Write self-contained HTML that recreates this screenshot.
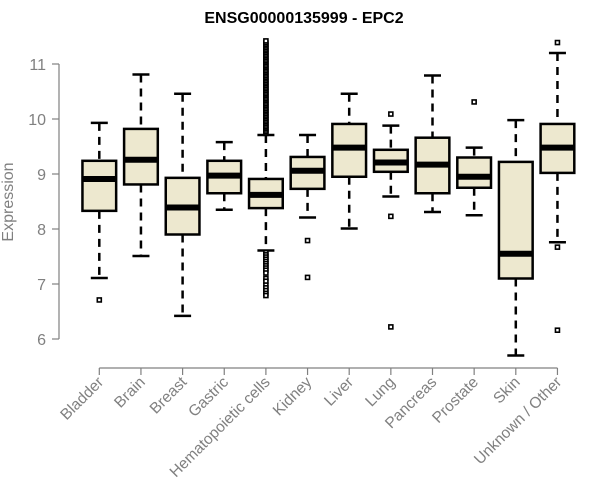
<!DOCTYPE html>
<html><head><meta charset="utf-8">
<style>
html,body{margin:0;padding:0;background:#fff;}
svg{display:block;font-family:"Liberation Sans",Arial,sans-serif;}
</style></head>
<body>
<svg id="chart" width="600" height="500">
<text x="304" y="23" text-anchor="middle" font-weight="bold" font-size="16" fill="#000">ENSG00000135999 - EPC2</text>
<text transform="translate(13,202) rotate(-90)" text-anchor="middle" font-size="16" fill="#808080">Expression</text>
<g id="axes"></g>
<g id="boxes"></g>
</svg>
<script>
const categories=["Bladder","Brain","Breast","Gastric","Hematopoietic cells","Kidney","Liver","Lung","Pancreas","Prostate","Skin","Unknown / Other"];
const whiskLow=[7.11,7.51,6.42,8.35,7.61,8.21,8.01,8.59,8.31,8.25,5.70,7.76];
const q1=[8.33,8.81,7.90,8.65,8.38,8.73,8.95,9.04,8.65,8.75,7.10,9.02];
const medians=[8.91,9.26,8.39,8.97,8.62,9.06,9.48,9.21,9.17,8.95,7.55,9.48];
const q3=[9.24,9.82,8.93,9.24,8.91,9.31,9.91,9.44,9.66,9.30,9.22,9.91];
const whiskHigh=[9.93,10.81,10.46,9.58,9.71,9.71,10.46,9.88,10.79,9.48,9.98,11.20];
const outliers=[[6.71],[],[],[],
 [9.74,9.77,9.8,9.83,9.86,9.89,9.92,9.95,9.98,10.01,10.04,10.07,10.1,10.13,10.16,10.19,10.22,10.25,10.28,10.31,10.34,10.37,10.4,10.43,10.46,10.49,10.52,10.55,10.58,10.61,10.64,10.67,10.7,10.73,10.76,10.79,10.82,10.85,10.88,10.91,10.94,10.97,11.0,11.03,11.06,11.09,11.12,11.15,11.18,11.21,11.24,11.27,11.3,11.33,11.36,11.39,11.42,
  7.57,7.53,7.49,7.45,7.41,7.37,7.33,7.29,7.25,7.2,7.1,7.05,6.98,6.93,6.88,6.83,6.79],
 [7.79,7.12],[],[10.09,8.23,6.22],[],[10.31],[],[11.39,7.67,6.16]];
const yTicks=[6,7,8,9,10,11];

const NS="http://www.w3.org/2000/svg";
const y=v=>64+(11-v)*55;
const x=i=>99.3+i*41.65;
const bw=33.7;
function mk(tag,attrs,parent){const e=document.createElementNS(NS,tag);for(const k in attrs)e.setAttribute(k,attrs[k]);parent.appendChild(e);return e;}
const axes=document.getElementById('axes'), boxes=document.getElementById('boxes');
let yl=mk('line',{x1:59,x2:59,y1:y(11),y2:y(6),stroke:'#808080','stroke-width':1.2},axes);


yTicks.forEach(t=>{
 let l=mk('line',{x1:52,x2:59,y1:y(t),y2:y(t),stroke:'#808080','stroke-width':1.2},axes);
 
 
 let tx=mk('text',{x:46,y:y(t)+6,'text-anchor':'end','font-size':16,fill:'#808080'},axes);
 tx.textContent=t;
 
 
});
let xl=mk('line',{x1:x(0),x2:x(categories.length-1),y1:368,y2:368,stroke:'#808080','stroke-width':1.2},axes);


categories.forEach((c,i)=>{
 let l=mk('line',{x1:x(i),x2:x(i),y1:368,y2:375,stroke:'#808080','stroke-width':1.2},axes);
 
 
 let tx=mk('text',{transform:`translate(${x(i)+5},383) rotate(-45)`,'text-anchor':'end','font-size':15.5,fill:'#808080'},axes);
 tx.textContent=c;
 
 
 const g=mk('g',{},boxes);
 
 
 const cx=x(i);
 mk('line',{x1:cx,x2:cx,y1:y(whiskHigh[i]),y2:y(q3[i]),stroke:'#000','stroke-width':2.5,'stroke-dasharray':'8,6'},g);
 mk('line',{x1:cx,x2:cx,y1:y(q1[i]),y2:y(whiskLow[i]),stroke:'#000','stroke-width':2.5,'stroke-dasharray':'8,6'},g);
 mk('line',{x1:cx-8.5,x2:cx+8.5,y1:y(whiskHigh[i]),y2:y(whiskHigh[i]),stroke:'#000','stroke-width':2.5},g);
 mk('line',{x1:cx-8.5,x2:cx+8.5,y1:y(whiskLow[i]),y2:y(whiskLow[i]),stroke:'#000','stroke-width':2.5},g);
 mk('rect',{x:cx-bw/2,y:y(q3[i]),width:bw,height:y(q1[i])-y(q3[i]),fill:'#ede8cf',stroke:'#000','stroke-width':2.5},g);
 mk('line',{x1:cx-bw/2,x2:cx+bw/2,y1:y(medians[i]),y2:y(medians[i]),stroke:'#000','stroke-width':6},g);
 outliers[i].forEach(v=>{
  let p=mk('rect',{x:cx-2,y:y(v)-2,width:4,height:4,fill:'#fff',stroke:'#000','stroke-width':1.6},g);
  
  
 });
});
</script>
</body></html>
